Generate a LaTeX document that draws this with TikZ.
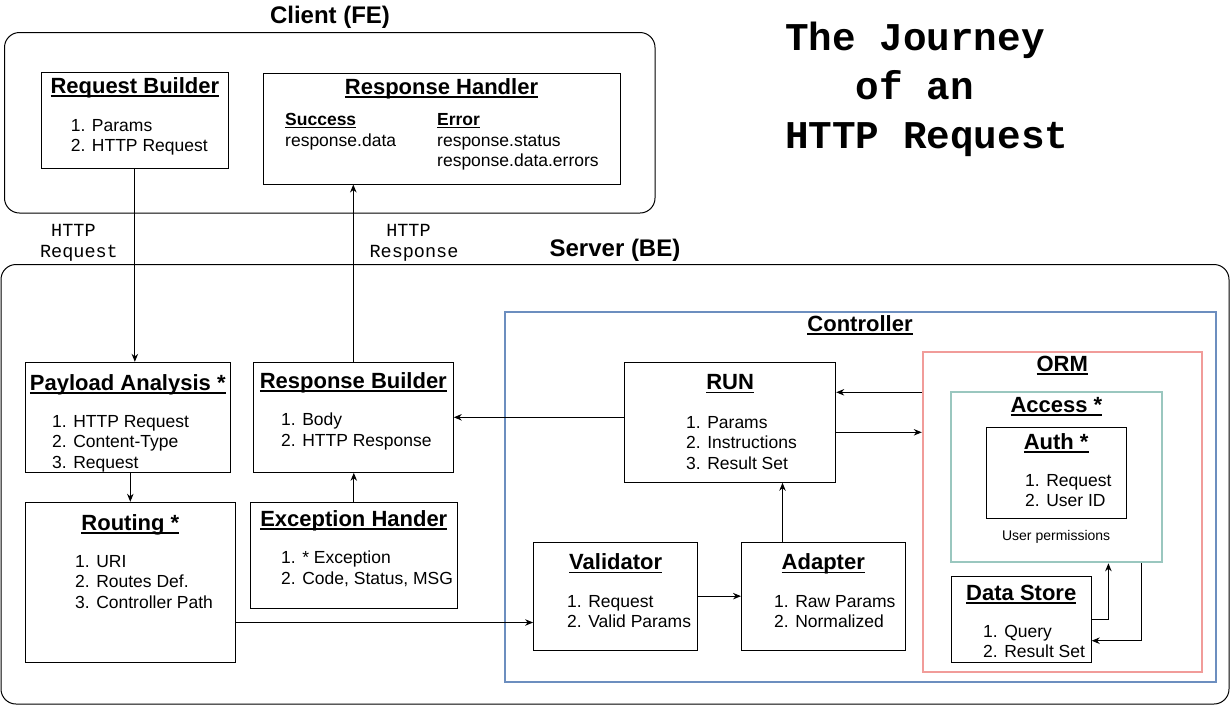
\documentclass[tikz,border=0pt]{standalone}
\usepackage{fontspec}
\setmainfont{Liberation Sans}
\setmonofont{Liberation Mono}
\usepackage{tikz}
\usetikzlibrary{arrows.meta, positioning}

\definecolor{ctrlblue}{HTML}{6C8EBF}
\definecolor{ormred}{HTML}{F19C99}
\definecolor{accgreen}{HTML}{9AC7BF}

\newcommand{\ttlul}[1]{\setbox0=\hbox{#1}\rlap{\rule[-0.18em]{\wd0}{0.08em}}\box0}
\newcommand{\itemlist}[1]{\begin{tabular}[t]{@{}l@{}}#1\end{tabular}}

\tikzset{
    box/.style={draw, line width=1pt, inner sep=0pt},
    grp/.style={draw, line width=1pt, rounded corners=15pt, inner sep=0pt},
    ttl/.style={anchor=base, inner sep=0pt, font=\bfseries\fontsize{22}{26}\selectfont},
    bigttl/.style={anchor=base, inner sep=0pt, font=\bfseries\fontsize{24}{28}\selectfont},
    lst/.style={anchor=base west, inner sep=0pt, font=\fontsize{17.5}{20.7}\selectfont},
    wire/.style={anchor=base, inner sep=0pt, font=\ttfamily\fontsize{18.5}{21.5}\selectfont},
    arr/.style={-{Stealth[length=8pt,width=6.5pt]}, line width=1pt},
}

\begin{document}
\begin{tikzpicture}[x=1pt, y=-1pt]
    \useasboundingbox (0, 0) rectangle (1231, 705);

    % client side
    \node[grp, minimum width=650.5pt, minimum height=180.5pt] at (329.75, 122.75) (client) {};
    \node[bigttl] at (330, 23) (clientttl) {Client (FE)};

    \node[box, minimum width=187.3pt, minimum height=96pt] at (134.85, 120.5) (reqb) {};
    \node[ttl] at (134.85, 93) (reqbttl) {\ttlul{Request Builder}};
    \node[lst] at (70.7, 131) (reqblst) {\itemlist{1. Params\\2. HTTP Request}};

    \node[box, minimum width=357pt, minimum height=111pt] at (441.5, 128.5) (resph) {};
    \node[ttl] at (441.5, 94) (resphttl) {\ttlul{Response Handler}};
    \node[lst, font=\bfseries\fontsize{17.5}{20.7}\selectfont] at (285, 125) (succttl) {\ttlul{Success}};
    \node[lst] at (285, 146) (succlst) {response.data};
    \node[lst, font=\bfseries\fontsize{17.5}{20.7}\selectfont] at (437, 125) (errttl) {\ttlul{Error}};
    \node[lst] at (437, 146) (errlst) {\itemlist{response.status\\response.data.errors}};

    \node[wire] at (79, 236) (reqwire) {\begin{tabular}[t]{@{}c@{}}\mbox{HTTP\ }\\Request\end{tabular}};
    \node[wire] at (414, 236) (respwire) {\begin{tabular}[t]{@{}c@{}}\mbox{HTTP\ }\\Response\end{tabular}};

    % server side
    \node[grp, minimum width=1228pt, minimum height=439.5pt] at (615, 484.25) (server) {};
    \node[bigttl] at (615, 256) (serverttl) {Server (BE)};

    \node[box, minimum width=205pt, minimum height=110pt] at (127.8, 417.3) (payload) {};
    \node[ttl] at (127.8, 390) (payloadttl) {\ttlul{Payload Analysis *}};
    \node[lst] at (52, 427) (payloadlst) {\itemlist{1. HTTP Request\\2. Content-Type\\3. Request}};

    \node[box, minimum width=210pt, minimum height=160pt] at (130.3, 582.3) (routing) {};
    \node[ttl] at (130.3, 530) (routingttl) {\ttlul{Routing *}};
    \node[lst] at (75, 567) (routinglst) {\itemlist{1. URI\\2. Routes Def.\\3. Controller Path}};

    \node[box, minimum width=200pt, minimum height=110pt] at (353.3, 417.3) (respb) {};
    \node[ttl] at (353.3, 388) (respbttl) {\ttlul{Response Builder}};
    \node[lst] at (281, 425.5) (respblst) {\itemlist{1. Body\\2. HTTP Response}};

    \node[box, minimum width=207pt, minimum height=106pt] at (353.8, 555.3) (exch) {};
    \node[ttl] at (353.8, 526) (exchttl) {\ttlul{Exception Hander}};
    \node[lst] at (281, 563.5) (exchlst) {\itemlist{1. * Exception\\2. Code, Status, MSG}};

    % controller
    \node[box, draw=ctrlblue, line width=2pt, minimum width=710.9pt, minimum height=370pt] at (860.15, 497.3) (ctrl) {};
    \node[ttl] at (860, 331) (ctrlttl) {\ttlul{Controller}};

    \node[box, minimum width=211.2pt, minimum height=120pt] at (730.1, 422.3) (runb) {};
    \node[ttl] at (730.1, 389.5) (runttl) {\ttlul{RUN}};
    \node[lst] at (686, 428) (runlst) {\itemlist{1. Params\\2. Instructions\\3. Result Set}};

    \node[box, minimum width=164.1pt, minimum height=107.7pt] at (615.65, 596.15) (valid) {};
    \node[ttl] at (615.65, 569.5) (validttl) {\ttlul{Validator}};
    \node[lst] at (567, 607) (validlst) {\itemlist{1. Request\\2. Valid Params}};

    \node[box, minimum width=163.6pt, minimum height=107.7pt] at (823.3, 596.15) (adapt) {};
    \node[ttl] at (823.3, 569.5) (adaptttl) {\ttlul{Adapter}};
    \node[lst] at (774, 607) (adaptlst) {\itemlist{1. Raw Params\\2. Normalized}};

    % orm
    \node[box, draw=ormred, line width=2pt, minimum width=278.8pt, minimum height=320pt] at (1062.2, 512.3) (orm) {};
    \node[ttl] at (1062.2, 371) (ormttl) {\ttlul{ORM}};

    \node[box, draw=accgreen, line width=2pt, minimum width=210.2pt, minimum height=170pt] at (1056.4, 477.3) (access) {};
    \node[ttl] at (1056.4, 412) (accessttl) {\ttlul{Access *}};

    \node[box, minimum width=139.9pt, minimum height=91pt] at (1056.15, 473.2) (auth) {};
    \node[ttl] at (1056.15, 449) (authttl) {\ttlul{Auth *}};
    \node[lst] at (1025, 486) (authlst) {\itemlist{1. Request\\2. User ID}};
    \node[anchor=base, inner sep=0pt, font=\fontsize{14}{16}\selectfont] at (1056.15, 540) (perm) {User permissions};

    \node[box, minimum width=139.9pt, minimum height=85.3pt] at (1021.25, 619.35) (dstore) {};
    \node[ttl] at (1021.25, 600) (dstorettl) {\ttlul{Data Store}};
    \node[lst] at (983, 637) (dstorelst) {\itemlist{1. Query\\2. Result Set}};

    % title
    \node[anchor=base west, inner sep=0pt, font=\ttfamily\bfseries\fontsize{39.3}{49}\selectfont] at (785, 50) (journey)
        {\itemlist{The Journey\\\hphantom{The}of an\\HTTP Request}};

    % connectors
    \coordinate (rv) at (0, 622.5);
    \coordinate (ar) at (782.5, 0);
    \coordinate (o2r) at (0, 392.3);
    \coordinate (r2o) at (0, 432.3);
    \coordinate (up) at (1108.4, 0);
    \coordinate (dn) at (1141.5, 640.7);

    \draw[arr] (reqb.south) -- (reqb.south |- payload.north);
    \draw[arr] (respb.north) -- (respb.north |- resph.south);
    \draw[arr] (payload.south -| routing.north) -- (routing.north);
    \draw[arr] (exch.north) -- (exch.north |- respb.south);
    \draw[arr] (runb.west |- respb.east) -- (respb.east);
    \draw[arr] (routing.east |- rv) -- (valid.west |- rv);
    \draw[arr] (valid.east) -- (adapt.west);
    \draw[arr] (adapt.north -| ar) -- (runb.south -| ar);
    \draw[arr] (orm.west |- o2r) -- (runb.east |- o2r);
    \draw[arr] (runb.east |- r2o) -- (orm.west |- r2o);
    \draw[arr] (dstore.east) -| (access.south -| up);
    \draw[arr] (access.south -| dn) |- (dstore.east |- dn);
\end{tikzpicture}
\end{document}
